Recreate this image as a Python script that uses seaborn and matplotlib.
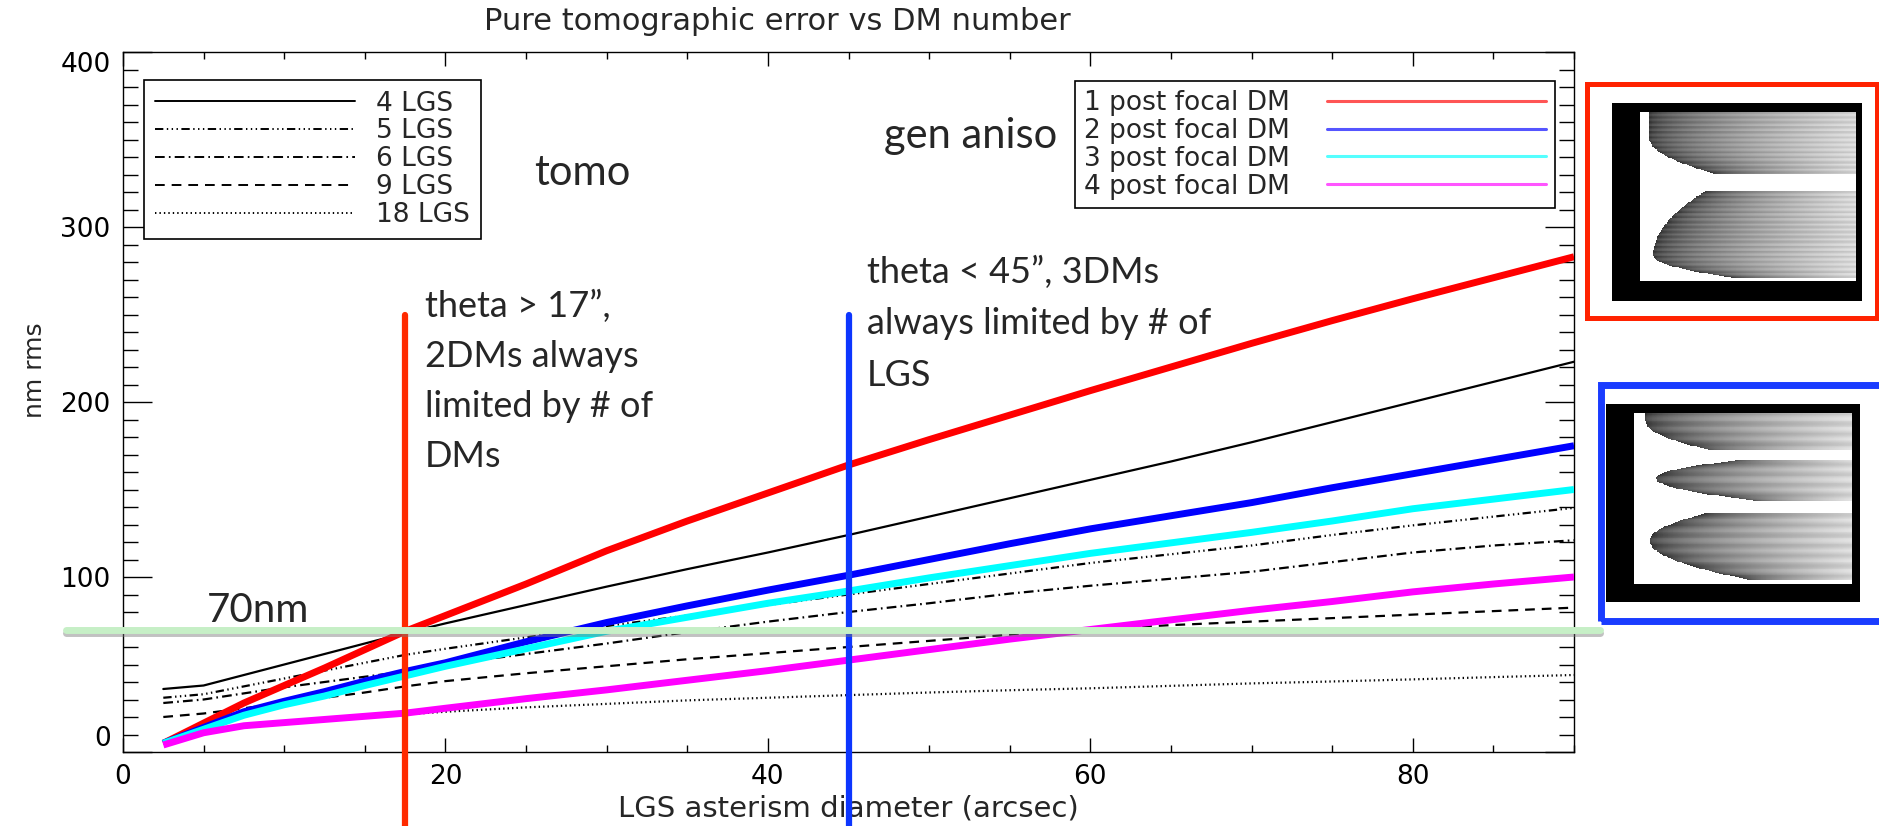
import numpy as np
import pandas as pd
import matplotlib
matplotlib.use("Agg")
import matplotlib.pyplot as plt
import matplotlib.patheffects as pe
from matplotlib.lines import Line2D
from matplotlib.patches import Rectangle
from matplotlib.ticker import MultipleLocator
import seaborn as sns

# ---------------- data ----------------
diam = [2.5, 5, 7.5, 10, 12.5, 15, 17.5, 20, 25, 30, 35, 40, 45, 50, 55, 60, 65, 70, 75, 80, 85, 90]

lgs_4 = [36, 38, 44, 50, 56, 62, 68, 73.5, 84, 94.5, 104.5, 114, 124, 134.5, 145, 155.5, 166, 177, 188.5, 200, 211.5, 223]
lgs_5 = [31, 33, 37.5, 42, 46.5, 51, 55.5, 59, 65.5, 72, 78, 84, 90, 96, 102, 108, 113, 118, 124, 129.5, 134.5, 139.5]
lgs_6 = [28, 30, 33.5, 37, 40, 43, 46, 50, 56, 62, 68.5, 74.5, 80, 85, 90.5, 95, 99, 103, 108.5, 114, 118, 121]
lgs_9 = [20, 22, 25, 28, 31, 34, 37.5, 40.5, 45, 49, 53, 56.5, 60, 63.5, 67, 70, 72.5, 74.5, 76.5, 78.5, 80.5, 82.5]
lgs_18 = [5, 11, 14, 16, 18, 20, 21.5, 23, 25.5, 27.5, 29.5, 31, 32.5, 34, 35.3, 36.4, 37.8, 39.2, 40.3, 41.5, 42.8, 44]

dm_1 = [5, 16.5, 28, 38, 48, 58.5, 69, 78, 96, 115, 132, 148, 164, 178.5, 192.5, 206.5, 220, 233.5, 246.5, 259, 271, 283]
dm_2 = [5, 14, 23, 29, 34.5, 40.5, 46, 51, 63, 74, 83.5, 92.5, 101, 110, 119, 127.5, 135, 142.5, 151, 159, 167, 175]
dm_3 = [5, 13, 21, 27, 32, 38, 43.5, 49, 59, 69, 77, 85, 92, 99.5, 106.5, 113.5, 119.5, 125.5, 132, 139, 144.5, 150]
dm_4 = [4, 11, 15, 16.8, 18.6, 20.4, 22.2, 25, 30.5, 35.5, 41, 46.5, 52.5, 58.5, 64.5, 70, 75.5, 81, 86, 91.5, 96, 100]

lgs_labels = ["4 LGS", "5 LGS", "6 LGS", "9 LGS", "18 LGS"]
dm_labels = ["1 post focal DM", "2 post focal DM", "3 post focal DM", "4 post focal DM"]

threshold_nm = 70
theta_2dm = 17.5
theta_3dm = 45
marker_top = 250

title = "Pure tomographic error vs DM number"
xlabel = "LGS asterism diameter (arcsec)"
ylabel = "nm rms"
note_2dm = ["theta > 17\u201d,", "2DMs always", "limited by # of", "DMs"]
note_3dm = ["theta < 45\u201d, 3DMs", "always limited by # of", "LGS"]

# ---------------- style ----------------
sns.set_style("ticks")
plt.rcParams['font.family'] = ['DejaVu Sans']
plt.rcParams['lines.scale_dashes'] = False
plt.rcParams['axes.linewidth'] = 1.0

W, H = 1879, 826
fig = plt.figure(figsize=(W / 100, H / 100), dpi=100)


def fx(px):
    return px / W


def fy(py):
    return 1 - py / H


ax = fig.add_axes([fx(123), fy(752), fx(1574) - fx(123), fy(52) - fy(752)])

ls_4 = '-'
ls_5 = (0, (6, 2.5, 1, 2.5, 1, 2.5, 1, 2.5))
ls_6 = (0, (7, 3, 1.2, 3))
ls_9 = (0, (7, 5))
ls_18 = (0, (1, 2.2))

black_series = [(lgs_4, ls_4), (lgs_5, ls_5), (lgs_6, ls_6), (lgs_9, ls_9), (lgs_18, ls_18)]
for vals, ls in black_series:
    sns.lineplot(x=diam, y=vals, ax=ax, color='black', linewidth=1.6, linestyle=ls,
                 errorbar=None, legend=False, zorder=3)

dm_series = [(dm_1, '#ff0000'), (dm_2, '#0000ff'), (dm_3, '#00ffff'), (dm_4, '#ff00ff')]
for vals, c in dm_series:
    sns.lineplot(x=diam, y=vals, ax=ax, color=c, linewidth=5, errorbar=None,
                 legend=False, zorder=4, solid_capstyle='butt')

ax.set_xlim(0, 90)
ax.set_ylim(0, 400)
ax.xaxis.set_major_locator(MultipleLocator(20))
ax.xaxis.set_minor_locator(MultipleLocator(5))
ax.yaxis.set_major_locator(MultipleLocator(100))
ax.yaxis.set_minor_locator(MultipleLocator(10))
ax.tick_params(which='both', direction='in', top=True, right=True, colors='black', width=1.0)
ax.tick_params(axis='x', which='major', length=10, labelsize=19, pad=9)
ax.tick_params(axis='x', which='minor', length=5)
ax.tick_params(axis='y', which='major', length=21, labelsize=19, pad=9)
ax.tick_params(axis='y', which='minor', length=10.5)
for s in ax.spines.values():
    s.set_color('black')
    s.set_linewidth(1.0)

ax.set_yticks([0, 100, 200, 300, 400])
ylabs = ax.set_yticklabels(['0', '100', '200', '300', '400'])
ylabs[0].set_va('bottom')
ylabs[-1].set_va('top')

ax.set_xlabel(xlabel, fontsize=21)
ax.xaxis.set_label_coords(0.5, (752 - 808) / 700)
ax.xaxis.label.set_va('center')
fig.text(fx(35), fy(370), ylabel, rotation=90, ha='center', va='center', fontsize=18)
fig.text(fx(777), fy(22), title, ha='center', va='center', fontsize=22)

# legends
h1 = [Line2D([], [], color='black', lw=1.4, ls=ls) for _, ls in black_series]
leg1 = ax.legend(h1, lgs_labels, loc='upper left', bbox_to_anchor=(fx(144), fy(80)),
                 bbox_transform=fig.transFigure, frameon=True, fancybox=False,
                 edgecolor='black', framealpha=1, fontsize=19, handlelength=7.6,
                 handletextpad=0.8, labelspacing=0.07, borderpad=0.4, borderaxespad=0)
leg1.get_frame().set_linewidth(1.2)
leg1.set_zorder(8)
ax.add_artist(leg1)

legend_colors = ['#ff5555', '#5555ff', '#55ffff', '#ff55ff']
h2 = [Line2D([], [], color=c, lw=2.2) for c in legend_colors]
leg2 = ax.legend(h2, dm_labels, loc='upper left', bbox_to_anchor=(fx(1075), fy(81)),
                 bbox_transform=fig.transFigure, frameon=True, fancybox=False,
                 edgecolor='black', framealpha=1, fontsize=19, handlelength=8.3,
                 handletextpad=1.4, labelspacing=0.07, borderpad=0.34, borderaxespad=0,
                 markerfirst=False)
leg2.get_frame().set_linewidth(1.2)
leg2.set_zorder(8)

# annotation lines
yfrac_top = (marker_top - 0) / 400
yfrac_bot = (752 - 830) / 700
ax.axvline(theta_2dm, ymin=yfrac_bot, ymax=yfrac_top, color='#ff2a00', lw=4.5,
           clip_on=False, zorder=6)
ax.axvline(theta_3dm, ymin=yfrac_bot, ymax=yfrac_top, color='#0d36ff', lw=4.5,
           clip_on=False, zorder=6)
ax.axhline(threshold_nm, xmin=(66 - 123) / 1451, xmax=(1600 - 123) / 1451, color='#c6efc6',
           lw=5, clip_on=False, zorder=7,
           path_effects=[pe.SimpleLineShadow(offset=(0, -2.5), shadow_color='#777777', alpha=0.45),
                         pe.Normal()])

# annotation text (Calibri-like)
afont = ['Lato', 'DejaVu Sans']


def px2data(px, py):
    return (px - 123) / 1451 * 90, (752 - py) / 700 * 400


for i, line in enumerate(note_2dm):
    x, y = px2data(425, 317 + 50 * i)
    ax.text(x, y, line, family=afont, fontsize=26, ha='left', va='baseline', zorder=9)
for i, line in enumerate(note_3dm):
    x, y = px2data(867, 283 + 51.5 * i)
    ax.text(x, y, line, family=afont, fontsize=26, ha='left', va='baseline', zorder=9)
x, y = px2data(534, 185)
ax.text(x, y, "tomo", family=afont, fontsize=30, ha='left', va='baseline')
x, y = px2data(884, 148)
ax.text(x, y, "gen aniso", family=afont, fontsize=30, ha='left', va='baseline')
x, y = px2data(207, 622)
ax.text(x, y, "70nm", family=afont, fontsize=29, ha='left', va='baseline', zorder=9)


# ---------------- inset pictures ----------------
def lobe_picture(hmax, lobes, ny=200, nx=260):
    h = np.linspace(hmax, 0, ny)[:, None] * np.ones((1, nx))
    k = np.ones((ny, 1)) * np.linspace(0, 1, nx)[None, :]
    img = np.ones((ny, nx))
    for lo, hi, nose, k0, a_up, s_up, a_dn, s_dn in lobes:
        up = np.clip((h - nose) / s_up, 0, None)
        dn = np.clip((nose - h) / s_dn, 0, None)
        kl = k0 + a_up * up ** 2 + a_dn * dn ** 2
        inside = (h >= lo) & (h <= hi) & (k >= kl)
        frac = np.clip((k - kl) / np.clip(1 - kl, 1e-3, None), 0, 1)
        v = 0.22 + 0.62 * frac ** 0.55 + 0.05 * np.sin(h * 5.3)
        img = np.where(inside, np.clip(v, 0, 1), img)
    return img


red_lobes = [(25.5, 40, 34, 0.04, 0.0, 1, 0.3, 8.5),
             (0.5, 21.5, 6, 0.06, 0.25, 15.5, 0.4, 5.5)]
blue_lobes = [(15.6, 20, 19, 0.05, 0.0, 1, 0.3, 3.4),
              (9.6, 14.4, 12.3, 0.1, 0.45, 2.3, 0.5, 2.7),
              (0.5, 8.3, 5, 0.07, 0.28, 3.3, 0.45, 4.5)]


def add_picture(black_box, white_box, hmax, lobes):
    x0, y0, x1, y1 = black_box
    bx = fig.add_axes([fx(x0), fy(y1), fx(x1) - fx(x0), fy(y0) - fy(y1)])
    bx.set_facecolor('black')
    bx.set_xticks([])
    bx.set_yticks([])
    for s in bx.spines.values():
        s.set_visible(False)
    x0, y0, x1, y1 = white_box
    ix = fig.add_axes([fx(x0), fy(y1), fx(x1) - fx(x0), fy(y0) - fy(y1)])
    ix.imshow(lobe_picture(hmax, lobes), cmap='gray', vmin=0, vmax=1, aspect='auto',
              extent=[0, 1, 0, hmax], interpolation='nearest')
    ix.set_axis_off()


add_picture((1612, 103, 1862, 301), (1640, 112, 1856, 281), 40, red_lobes)
add_picture((1606, 404, 1860, 602), (1634, 413, 1852, 584), 20, blue_lobes)

fig.add_artist(Rectangle((fx(1587), fy(318)), fx(1877) - fx(1587), fy(84) - fy(318),
                         transform=fig.transFigure, fill=False, edgecolor='#ff2200', lw=3.6))
fig.add_artist(Rectangle((fx(1601), fy(621)), fx(1900) - fx(1601), fy(385) - fy(621),
                         transform=fig.transFigure, fill=False, edgecolor='#1a3cff', lw=5))

fig.savefig("out.png", dpi=100, facecolor='white')
